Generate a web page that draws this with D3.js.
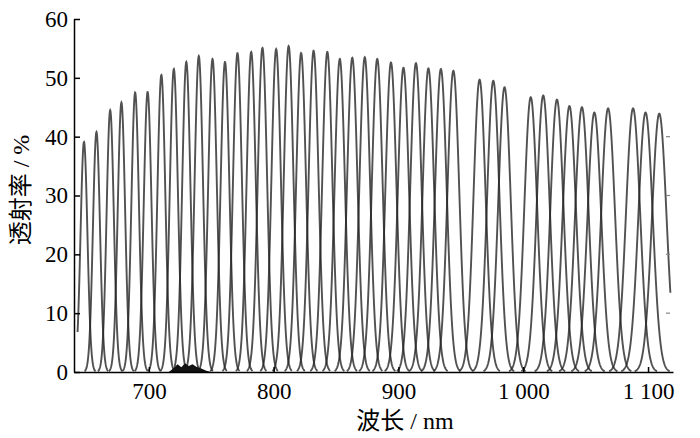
<!DOCTYPE html>
<html><head><meta charset="utf-8">
<script src="https://cdn.jsdelivr.net/npm/d3@7"></script>
<style>body{margin:0;background:#fff}svg{display:block}</style>
</head><body><svg id="c" width="700" height="438"></svg>
<script>
// Peak centre wavelengths (nm) and peak transmittance (%)
const peakWavelengths = [648,658,669,678,689,699,710,720,730,740,751,761,771,782,791,802,812,822,832,843,853,863,873,883,894,904,914,924,934,944,965,976,985,1006,1016,1027,1037,1047,1057,1068,1088,1098,1109];
const peakTransmittance = [39.1,40.8,44.5,45.8,47.5,47.6,50.5,51.5,52.7,53.7,53.2,52.7,54.2,54.4,55.1,54.9,55.4,54.2,54.6,54.4,53.2,53.4,53.5,53.2,52.6,51.7,52.5,51.6,51.5,51.2,49.7,49.5,48.4,46.7,47.0,46.3,45.2,45.0,44.1,44.8,44.8,44.1,43.9];
// small residual bump near the baseline
const bumpWavelengths = [716,720,723,726,729,732,735,738,742,746,750];
const bumpTransmittance = [0,0.7,1.3,0.8,1.5,1.0,1.3,0.9,0.6,0.2,0];
const xTicks = [700,800,900,1000,1100];
const xTickLabels = ["700","800","900","1 000","1 100"];
const yTicks = [0,10,20,30,40,50,60];

const svg = d3.select('#c');
const x = d3.scaleLinear().domain([640,1120]).range([74,673]);
const y = d3.scaleLinear().domain([0,60]).range([372,19]);
const font = "'Liberation Serif','Times New Roman','Noto Sans CJK SC',serif";

const line = d3.line().x(d=>x(d[0])).y(d=>y(d[1]));
const g = svg.append('g');
peakWavelengths.forEach((c,i)=>{
  const h = peakTransmittance[i];
  const fwhm = 6.5 + (c-650)/450*7;
  const s = fwhm/2.3548;
  const pts = [];
  for(let w=c-3.4*s; w<=c+3.4*s; w+=0.2){
    if(w<642.8 || w>1118) continue;
    pts.push([w, h*Math.exp(-((w-c)*(w-c))/(2*s*s))]);
  }
  g.append('path').attr('d', line(pts)).attr('fill','none')
    .attr('stroke','#262626').attr('stroke-width',1.9).attr('stroke-opacity',0.8);
});
svg.append('path')
  .attr('d', d3.area().x((d,i)=>x(bumpWavelengths[i])).y0(y(0)).y1(d=>y(d))(bumpTransmittance))
  .attr('fill','#111');

// axes
const ax = svg.append('g').attr('transform','translate(0,372)')
  .call(d3.axisBottom(x).tickValues(xTicks).tickFormat((d,i)=>xTickLabels[i]).tickSize(-5).tickSizeOuter(0).tickPadding(11));
const ay = svg.append('g').attr('transform','translate(74,0)')
  .call(d3.axisLeft(y).tickValues(yTicks).tickSize(-6).tickSizeOuter(0).tickPadding(6));
[ax,ay].forEach(a=>{
  a.select('.domain').attr('stroke','#000').attr('stroke-width',1.5);
  a.selectAll('.tick line').attr('stroke','#000').attr('stroke-width',1.5);
  a.selectAll('text').attr('font-family',font).attr('font-size',23).attr('fill','#000');
});
// faint right-side tick marks
svg.append('g').selectAll('line').data([10,20,30,40]).join('line')
  .attr('x1',666).attr('x2',670).attr('y1',d=>y(d)).attr('y2',d=>y(d))
  .attr('stroke','#888').attr('stroke-width',1.2);

svg.append('text').attr('x',405).attr('y',429).attr('text-anchor','middle')
  .attr('font-family',font).attr('font-size',24).text('波长 / nm');
svg.append('text').attr('transform','translate(29,190) rotate(-90)').attr('text-anchor','middle')
  .attr('font-family',font).attr('font-size',24).text('透射率 / %');
</script></body></html>
